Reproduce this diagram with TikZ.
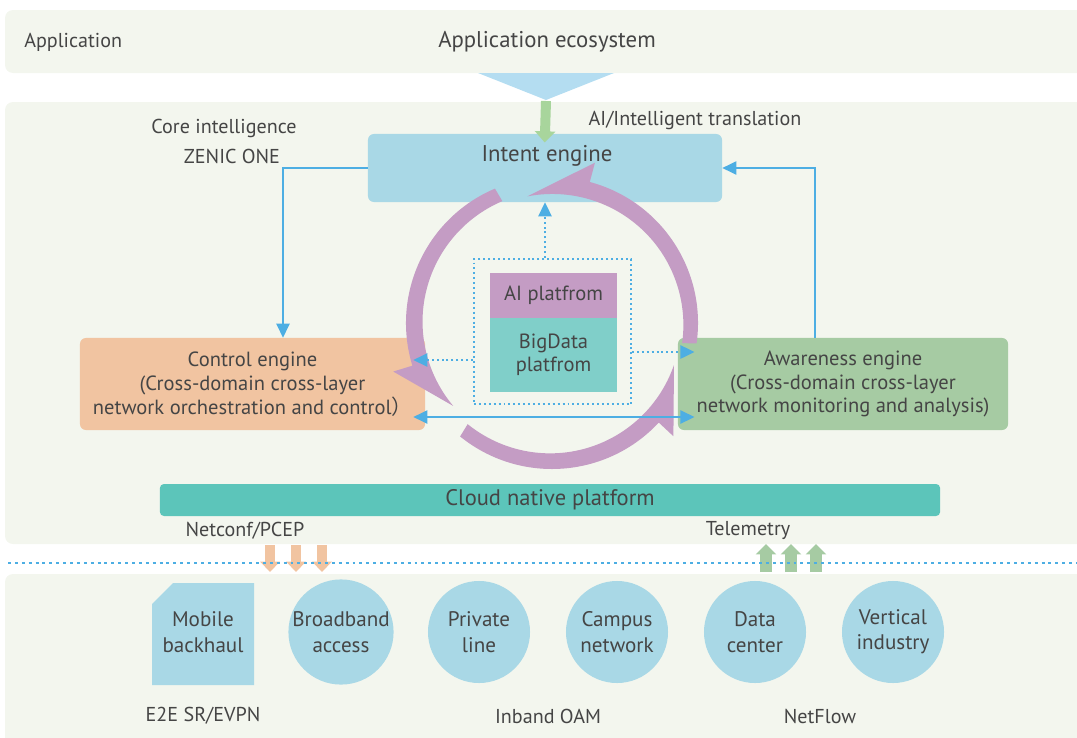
\documentclass[tikz,border=0pt]{standalone}
\usepackage{fontspec}
\setmainfont{PT Sans}
\newfontfamily\cjk{Noto Sans CJK SC}
\usepackage{tikz}
\usetikzlibrary{arrows.meta,calc}
\definecolor{bandc}{HTML}{F3F6EE}
\definecolor{txtc}{HTML}{454545}
\definecolor{skyc}{HTML}{B4DDF1}
\definecolor{intentc}{HTML}{A9D8E6}
\definecolor{ctrlc}{HTML}{F1C4A1}
\definecolor{awarec}{HTML}{A6CBA3}
\definecolor{purplec}{HTML}{C49CC4}
\definecolor{tealc}{HTML}{80CFC9}
\definecolor{cloudc}{HTML}{5CC5BA}
\definecolor{linec}{HTML}{4DAEE3}
\definecolor{greenc}{HTML}{A8D59C}
\tikzstyle{band} = [fill=bandc, rounded corners=0.2cm]
\tikzstyle{lbl} = [text=txtc, inner sep=0pt, font=\fontsize{14.3}{17}\selectfont]
\tikzstyle{biglbl} = [text=txtc, inner sep=0pt, font=\fontsize{16.2}{19}\selectfont]
\tikzstyle{engine} = [text=txtc, align=center, rounded corners=0.15cm, inner sep=0pt, font=\fontsize{14.6}{17}\selectfont]
\tikzstyle{pbox} = [text=txtc, align=center, inner sep=0pt, minimum width=3.175cm, font=\fontsize{14.6}{16.5}\selectfont]
\tikzstyle{site} = [circle, fill=intentc, text=txtc, align=center, minimum size=2.55cm, inner sep=0pt, font=\fontsize{15}{18}\selectfont]
\tikzstyle{bluelink} = [draw=linec, line width=1pt, -{Triangle[length=0.35cm,width=0.33cm]}]
\tikzstyle{dotlink} = [bluelink, dash pattern=on 1.4pt off 2.1pt, line width=1.3pt]
\tikzstyle{fatdown} = [draw=ctrlc, line width=7pt, -{Triangle[length=0.26cm,width=0.48cm]}]
\tikzstyle{fatup} = [draw=awarec, line width=8pt, -{Triangle[length=0.26cm,width=0.5cm]}]
\begin{document}
\begin{tikzpicture}[x=0.025cm, y=-0.025cm]
\useasboundingbox (0,0) rectangle (1077,737);
\clip (0,0) rectangle (1077,737);
\fill[band] (5,10) rectangle (1110,73);
\fill[band] (5,102) rectangle (1110,544);
\fill[band] (5,574) rectangle (1110,790);

\node[lbl, anchor=west] (applbl) at (24,42) {Application};
\node[biglbl] (appeco) at (547,42) {Application ecosystem};
\fill[skyc] (478,73) -- (614,73) -- (546,100) -- cycle;
\coordinate (skytip) at (546,101);
\node[lbl] (trans) at (695,120) {AI/Intelligent translation};
\node[lbl] (core) at (224,128) {Core intelligence};
\node[lbl] (zenic) at (232,156) {ZENIC ONE};

\node[engine, fill=intentc, minimum width=8.85cm, minimum height=1.7cm] (intent) at (545,168) {};
\node[biglbl] (intenttxt) at (547,156) {Intent engine};
\node[engine, fill=ctrlc, minimum width=8.625cm, minimum height=2.3cm] (control) at (252.5,384) {Control engine\\(Cross-domain cross-layer\\network orchestration and control{\cjk ）}};
\node[engine, fill=awarec, minimum width=8.25cm, minimum height=2.3cm] (aware) at (843,384) {Awareness engine\\(Cross-domain cross-layer\\network monitoring and analysis)};

\node[draw=linec, dash pattern=on 1.4pt off 2.1pt, line width=1.3pt, minimum width=3.925cm, minimum height=3.625cm] (plat) at (552.5,331.5) {};
\node[pbox, fill=purplec, minimum height=1.125cm] (ai) at (553.5,295.5) {AI platfrom};
\node[pbox, fill=tealc, minimum height=1.85cm] (bigdata) at (553.5,355) {BigData\\platfrom};

\node[engine, fill=cloudc, rounded corners=0.1cm, minimum width=19.5cm, minimum height=0.8cm, font=\fontsize{16}{19}\selectfont] (cloud) at (550,500) {Cloud native platform};
\node[lbl] (netconf) at (245,531) {Netconf/PCEP};
\node[lbl] (telemetry) at (748,531) {Telemetry};

\begin{scope}[shift={(552,323)}]
\foreach \t/\b/\p in {8/-75/-101, -113/-197/-220, -231/-317/-341}
  \fill[purplec] (\t:146) arc[start angle=\t, end angle=\b, radius=146] -- (\b:166) -- (\p:129) arc[start angle=\p, end angle=\t, radius=131] -- cycle;
\end{scope}

\draw[dotlink] (plat.north -| intent.south) -- (intent.south);
\draw[dotlink, shorten >=-0.3cm] (plat.west |- 0,360) -- (control.east |- 0,360);
\draw[dotlink, shorten >=-0.42cm] (plat.east |- 0,352) -- (aware.west |- 0,352);
\draw[bluelink, {Triangle[length=0.35cm,width=0.33cm]}-{Triangle[length=0.35cm,width=0.33cm]}, shorten <=-0.3cm, shorten >=-0.42cm] (control.east |- 0,417) -- (aware.west |- 0,417);
\draw[bluelink] (intent.west) -| (283,0 |- control.north);
\draw[bluelink] (815,0 |- aware.north) |- (intent.east);
\draw[draw=greenc, line width=7.1pt, -{Triangle[length=0.28cm,width=0.5cm]}, shorten >=-0.22cm] (skytip) -- (intent.north);

\draw[fatdown] (270,545) -- (270,572);
\draw[fatdown] (296,545) -- (296,572);
\draw[fatdown] (322,545) -- (322,572);
\draw[fatup] (766,572) -- (766,544);
\draw[fatup] (791,572) -- (791,544);
\draw[fatup] (816,572) -- (816,544);
\draw[linec, dash pattern=on 2.1pt off 2.8pt, line width=1.4pt] (8,563) -- (1077,563);

\fill[intentc] (152,604) -- (173,583) -- (254,583) -- (254,685) -- (152,685) -- cycle;
\node[text=txtc, align=center, font=\fontsize{15}{18}\selectfont] (mobile) at (203,632) {Mobile\\backhaul};
\node[site] (broadband) at (341,632) {Broadband\\access};
\node[site] (private) at (479,632) {Private\\line};
\node[site] (campus) at (617,632) {Campus\\network};
\node[site] (datacenter) at (755,632) {Data\\center};
\node[site] (vertical) at (893,632) {Vertical\\industry};

\node[lbl] (e2e) at (203,716) {E2E SR/EVPN};
\node[lbl] (inband) at (548,716) {Inband OAM};
\node[lbl] (netflow) at (820,716) {NetFlow};
\end{tikzpicture}
\end{document}
